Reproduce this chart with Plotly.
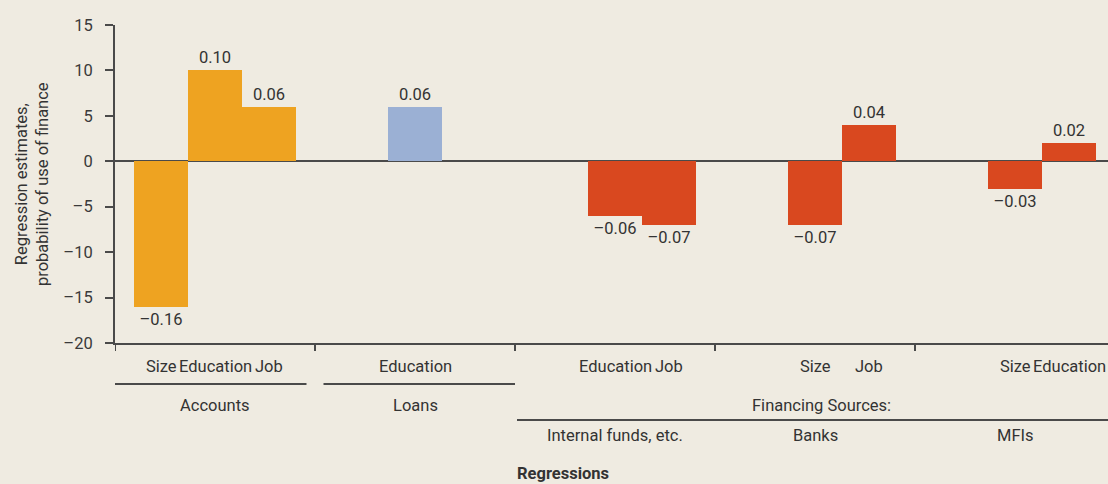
import plotly.graph_objects as go

# Regression results: one bar per (regression, explanatory variable)
groups = ["Accounts", "Accounts", "Accounts", "Loans",
          "Internal funds, etc.", "Internal funds, etc.",
          "Banks", "Banks", "MFIs", "MFIs"]
variables = ["Size", "Education", "Job", "Education",
             "Education", "Job", "Size", "Job", "Size", "Education"]
estimates = [-0.16, 0.10, 0.06, 0.06, -0.06, -0.07, -0.07, 0.04, -0.03, 0.02]

group_order = ["Accounts", "Loans", "Internal funds, etc.", "Banks", "MFIs"]
financing_groups = ["Internal funds, etc.", "Banks", "MFIs"]
y_ticks = [-20, -15, -10, -5, 0, 5, 10, 15]

FONT = "Roboto, 'Liberation Sans', sans-serif"
FS = 16.5
TEXT = "#333333"
LINE = "#4a4a4a"
BG = "#efebe1"
COLORS = {"Accounts": "#eea321", "Loans": "#9bb0d4", "financing": "#d9481f"}
BAR_W = 0.27  # fraction of one regression slot


def dash(s):
    return s.replace("-", "\u2013")


# place bars side by side; the middle (or left-middle) bar sits on the group centre
xs = []
for g in group_order:
    idx = [i for i, gg in enumerate(groups) if gg == g]
    start = -((len(idx) - 1) // 2)
    for k, i in enumerate(idx):
        xs.append((i, group_order.index(g) + (start + k) * BAR_W))
xs = [x for _, x in sorted(xs)]

fig = go.Figure()
fig.add_trace(go.Bar(
    x=xs,
    y=[v * 100 for v in estimates],
    width=BAR_W,
    marker=dict(color=[COLORS.get(g, COLORS["financing"]) for g in groups], line=dict(width=0)),
    text=[dash(f"{v:.2f}") for v in estimates],
    textposition="outside",
    constraintext="none",
    textfont=dict(family=FONT, size=FS, color=TEXT),
    cliponaxis=False,
    hoverinfo="skip",
))

annotations = []
shapes = []

# variable names under the axis
for x, name in zip(xs, variables):
    annotations.append(dict(x=x, y=0, xref="x", yref="paper", text=name, showarrow=False,
                            yanchor="middle", yshift=-23,
                            font=dict(family=FONT, size=FS, color=TEXT)))

# group boundary ticks
for gi in range(len(group_order)):
    shapes.append(dict(type="line", xref="x", yref="paper", ysizemode="pixel", yanchor=0,
                       x0=gi - 0.5, x1=gi - 0.5, y0=0, y1=-8,
                       line=dict(color=LINE, width=2)))

# first header row: Accounts, Loans, Financing Sources
half_gap = 0.0425
row1 = [("Accounts", -0.5, 0.5 - half_gap), ("Loans", 0.5 + half_gap, 1.5)]
for name, x0, x1 in row1:
    shapes.append(dict(type="line", xref="x", yref="paper", ysizemode="pixel", yanchor=0,
                       x0=x0, x1=x1, y0=-41, y1=-41, line=dict(color=LINE, width=2)))
    annotations.append(dict(x=group_order.index(name), y=0, xref="x", yref="paper", text=name,
                            showarrow=False, yanchor="middle", yshift=-62,
                            font=dict(family=FONT, size=FS, color=TEXT)))

fin_lo = group_order.index(financing_groups[0]) - 0.5
fin_hi = group_order.index(financing_groups[-1]) + 0.5
annotations.append(dict(x=(fin_lo + fin_hi) / 2 + 0.03, y=0, xref="x", yref="paper",
                        text="Financing Sources:", showarrow=False, yanchor="middle", yshift=-62,
                        font=dict(family=FONT, size=FS, color=TEXT)))
shapes.append(dict(type="line", xref="x", yref="paper", ysizemode="pixel", yanchor=0,
                   x0=fin_lo + 0.01, x1=fin_hi, y0=-77, y1=-77, line=dict(color=LINE, width=2)))
for name in financing_groups:
    annotations.append(dict(x=group_order.index(name), y=0, xref="x", yref="paper", text=name,
                            showarrow=False, yanchor="middle", yshift=-92,
                            font=dict(family=FONT, size=FS, color=TEXT)))

# axis titles
annotations.append(dict(x=0.451, y=0, xref="paper", yref="paper", text="<b>Regressions</b>",
                        showarrow=False, yanchor="middle", yshift=-130,
                        font=dict(family=FONT, size=FS, color=TEXT)))
annotations.append(dict(x=0, y=0.5, xref="paper", yref="paper",
                        text="Regression estimates,<br>probability of use of finance",
                        showarrow=False, textangle=-90, xanchor="center", yanchor="middle",
                        xshift=-83, font=dict(family=FONT, size=FS, color=TEXT)))

fig.update_layout(
    width=1108, height=484,
    margin=dict(l=115, r=0, t=25, b=141),
    paper_bgcolor=BG, plot_bgcolor=BG,
    showlegend=False,
    bargap=0,
    annotations=annotations,
    shapes=shapes,
    xaxis=dict(range=[-0.5, 4.465], showgrid=False, zeroline=False, showticklabels=False,
               ticks="", showline=True, linecolor=LINE, linewidth=2, fixedrange=True),
    yaxis=dict(range=[-20, 15], tickvals=y_ticks, ticktext=[dash(str(t)) for t in y_ticks],
               ticks="outside", ticklen=8, tickwidth=2, tickcolor=LINE, ticklabelstandoff=9,
               showline=True, linecolor=LINE, linewidth=2, showgrid=False,
               zeroline=True, zerolinecolor=LINE, zerolinewidth=2, layer="above traces",
               tickfont=dict(family=FONT, size=FS, color="#3a3a3a"), fixedrange=True),
)

fig.write_html("out.html")
